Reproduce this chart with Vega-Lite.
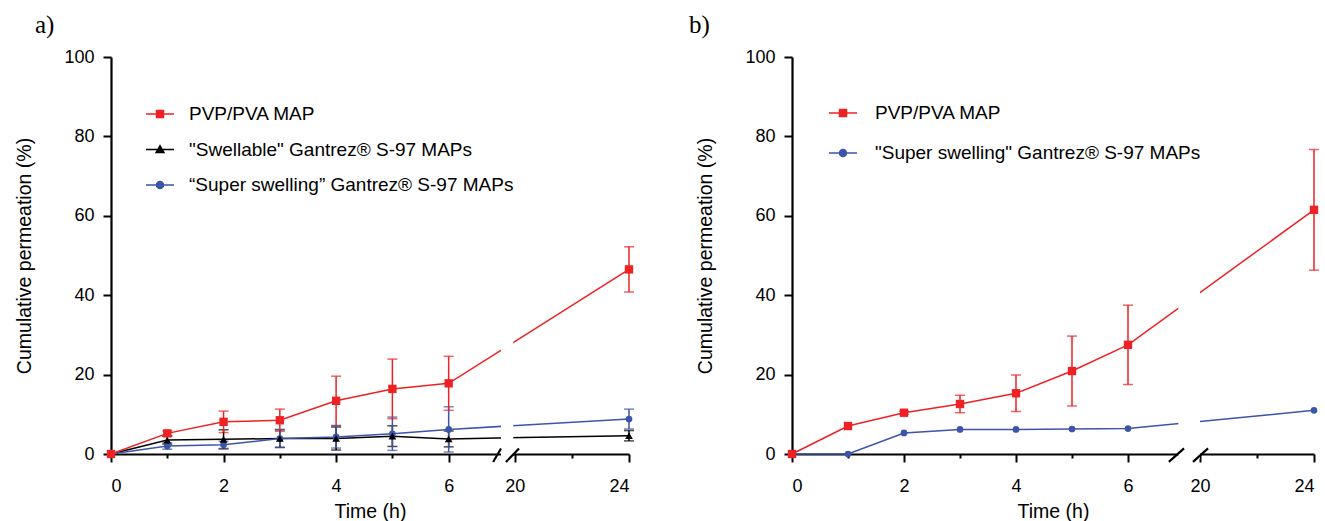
{
  "$schema": "https://vega.github.io/schema/vega-lite/v6.json",
  "background": "white",
  "padding": {"left": 14, "top": 13, "right": 5, "bottom": 5},
  "datasets": {
    "a": [
      {"series": "\"Swellable\" Gantrez® S-97 MAPs", "t": 0, "mean": 0, "sd": 0},
      {"series": "\"Swellable\" Gantrez® S-97 MAPs", "t": 1, "mean": 3.5, "sd": 1.0},
      {"series": "\"Swellable\" Gantrez® S-97 MAPs", "t": 2, "mean": 3.7, "sd": 2.4},
      {"series": "\"Swellable\" Gantrez® S-97 MAPs", "t": 3, "mean": 3.9, "sd": 2.2},
      {"series": "\"Swellable\" Gantrez® S-97 MAPs", "t": 4, "mean": 3.9, "sd": 2.9},
      {"series": "\"Swellable\" Gantrez® S-97 MAPs", "t": 5, "mean": 4.5, "sd": 2.6},
      {"series": "\"Swellable\" Gantrez® S-97 MAPs", "t": 6, "mean": 3.8, "sd": 2.0},
      {"series": "\"Swellable\" Gantrez® S-97 MAPs", "t": 24, "mean": 4.6, "sd": 1.3},
      {"series": "“Super swelling” Gantrez® S-97 MAPs", "t": 0, "mean": 0, "sd": 0},
      {"series": "“Super swelling” Gantrez® S-97 MAPs", "t": 1, "mean": 2.0, "sd": 0.8},
      {"series": "“Super swelling” Gantrez® S-97 MAPs", "t": 2, "mean": 2.3, "sd": 0.9},
      {"series": "“Super swelling” Gantrez® S-97 MAPs", "t": 3, "mean": 3.9, "sd": 2.3},
      {"series": "“Super swelling” Gantrez® S-97 MAPs", "t": 4, "mean": 4.3, "sd": 2.8},
      {"series": "“Super swelling” Gantrez® S-97 MAPs", "t": 5, "mean": 5.1, "sd": 4.2},
      {"series": "“Super swelling” Gantrez® S-97 MAPs", "t": 6, "mean": 6.2, "sd": 5.7},
      {"series": "“Super swelling” Gantrez® S-97 MAPs", "t": 24, "mean": 8.8, "sd": 2.5},
      {"series": "PVP/PVA MAP", "t": 0, "mean": 0, "sd": 0},
      {"series": "PVP/PVA MAP", "t": 1, "mean": 5.2, "sd": 0.6},
      {"series": "PVP/PVA MAP", "t": 2, "mean": 8.1, "sd": 2.7},
      {"series": "PVP/PVA MAP", "t": 3, "mean": 8.5, "sd": 2.8},
      {"series": "PVP/PVA MAP", "t": 4, "mean": 13.4, "sd": 6.2},
      {"series": "PVP/PVA MAP", "t": 5, "mean": 16.4, "sd": 7.5},
      {"series": "PVP/PVA MAP", "t": 6, "mean": 17.8, "sd": 6.8},
      {"series": "PVP/PVA MAP", "t": 24, "mean": 46.5, "sd": 5.7}
    ],
    "b": [
      {"series": "\"Super swelling\" Gantrez® S-97 MAPs", "t": 0, "mean": 0, "sd": 0},
      {"series": "\"Super swelling\" Gantrez® S-97 MAPs", "t": 1, "mean": 0, "sd": 0},
      {"series": "\"Super swelling\" Gantrez® S-97 MAPs", "t": 2, "mean": 5.3, "sd": 0},
      {"series": "\"Super swelling\" Gantrez® S-97 MAPs", "t": 3, "mean": 6.2, "sd": 0},
      {"series": "\"Super swelling\" Gantrez® S-97 MAPs", "t": 4, "mean": 6.2, "sd": 0},
      {"series": "\"Super swelling\" Gantrez® S-97 MAPs", "t": 5, "mean": 6.3, "sd": 0},
      {"series": "\"Super swelling\" Gantrez® S-97 MAPs", "t": 6, "mean": 6.4, "sd": 0},
      {"series": "\"Super swelling\" Gantrez® S-97 MAPs", "t": 24, "mean": 11.0, "sd": 0},
      {"series": "PVP/PVA MAP", "t": 0, "mean": 0, "sd": 0},
      {"series": "PVP/PVA MAP", "t": 1, "mean": 7.05, "sd": 0},
      {"series": "PVP/PVA MAP", "t": 2, "mean": 10.4, "sd": 0.4},
      {"series": "PVP/PVA MAP", "t": 3, "mean": 12.6, "sd": 2.2},
      {"series": "PVP/PVA MAP", "t": 4, "mean": 15.3, "sd": 4.6},
      {"series": "PVP/PVA MAP", "t": 5, "mean": 20.9, "sd": 8.8},
      {"series": "PVP/PVA MAP", "t": 6, "mean": 27.5, "sd": 10.0},
      {"series": "PVP/PVA MAP", "t": 24, "mean": 61.5, "sd": 15.2}
    ]
  },
  "spacing": 54,
  "hconcat": [
    {
      "width": 518,
      "height": 397,
      "title": {"text": "a)", "anchor": "start", "frame": "bounds", "dx": 20, "offset": 10},
      "data": {"name": "a"},
      "layer": [
        {
          "transform": [{"filter": "datum.sd > 0"}],
          "mark": {"type": "errorbar", "ticks": {"size": 10, "thickness": 1.5}, "thickness": 1.5},
          "encoding": {
            "x": {"field": "t", "type": "quantitative", "scale": {"domain": [0, 6.93, 19.95, 24], "range": [0, 390, 402.3, 518], "nice": false, "zero": false},
              "axis": {"values": [0, 1, 2, 3, 4, 5, 6, 20, 22, 24], "title": "Time (h)", "labelExpr": "datum.value % 2 == 1 || datum.value == 22 ? '' : datum.label",
                "tickSize": {"condition": {"test": "datum.value % 2 == 1 || datum.value == 22", "value": 4}, "value": 8}}},
            "y": {"field": "mean", "type": "quantitative", "scale": {"domain": [0, 100], "nice": false},
              "axis": {"values": [0, 10, 20, 30, 40, 50, 60, 70, 80, 90, 100], "title": "Cumulative permeation (%)", "labelExpr": "datum.value % 20 == 0 ? datum.label : ''",
                "tickSize": {"condition": {"test": "datum.value % 20 != 0", "value": 4}, "value": 8}}},
            "yError": {"field": "sd"},
            "color": {"field": "series", "type": "nominal",
              "scale": {"domain": ["PVP/PVA MAP", "\"Swellable\" Gantrez® S-97 MAPs", "“Super swelling” Gantrez® S-97 MAPs"], "range": ["#ED2224", "#000000", "#3B55A8"]},
              "legend": {"orient": "none", "legendX": 34, "legendY": 42, "title": null, "symbolSize": 784, "labelOffset": 14, "rowPadding": 10.5, "padding": 0,
                "labelFontSize": 19, "labelFont": "Liberation Sans", "labelColor": "#000", "symbolStrokeWidth": 1.5, "labelLimit": 500,
                "encode": {"symbols": {"update": {
                  "shape": {"signal": "indexof(datum.value, 'PVP') >= 0 ? 'M-1,0H1M-0.25,-0.25H0.25V0.25H-0.25Z' : (indexof(datum.value, 'Swellable') >= 0 ? 'M-1,0H1M-0.28,0.22L0,-0.26L0.28,0.22Z' : 'M-1,0H1M-0.25,0A0.25,0.25 0 1,0 0.25,0A0.25,0.25 0 1,0 -0.25,0Z')"},
                  "fill": {"signal": "indexof(datum.value, 'PVP') >= 0 ? '#ED2224' : (indexof(datum.value, 'Swellable') >= 0 ? '#000000' : '#3B55A8')"},
                  "stroke": {"signal": "indexof(datum.value, 'PVP') >= 0 ? '#ED2224' : (indexof(datum.value, 'Swellable') >= 0 ? '#000000' : '#3B55A8')"},
                  "fillOpacity": {"value": 1}, "strokeOpacity": {"value": 1}, "strokeWidth": {"value": 1.5}, "opacity": {"value": 1}
                }}}}
            }
          }
        },
        {
          "mark": {"type": "line", "strokeWidth": 1.5},
          "encoding": {
            "x": {"field": "t", "type": "quantitative", "scale": {"domain": [0, 6.93, 19.95, 24], "range": [0, 390, 402.3, 518], "nice": false, "zero": false}},
            "y": {"field": "mean", "type": "quantitative", "scale": {"domain": [0, 100], "nice": false}},
            "color": {"field": "series", "type": "nominal",
              "scale": {"domain": ["PVP/PVA MAP", "\"Swellable\" Gantrez® S-97 MAPs", "“Super swelling” Gantrez® S-97 MAPs"], "range": ["#ED2224", "#000000", "#3B55A8"]}}
          }
        },
        {
          "transform": [{"filter": "indexof(datum.series, 'Super') >= 0"}],
          "mark": {"type": "point", "shape": "circle", "filled": true, "opacity": 1, "size": 45, "color": "#3B55A8"},
          "encoding": {
            "x": {"field": "t", "type": "quantitative", "scale": {"domain": [0, 6.93, 19.95, 24], "range": [0, 390, 402.3, 518], "nice": false, "zero": false}},
            "y": {"field": "mean", "type": "quantitative", "scale": {"domain": [0, 100], "nice": false}}
          }
        },
        {
          "transform": [{"filter": "indexof(datum.series, 'Swellable') >= 0"}],
          "mark": {"type": "point", "shape": "triangle-up", "filled": true, "opacity": 1, "size": 60, "color": "#000000"},
          "encoding": {
            "x": {"field": "t", "type": "quantitative", "scale": {"domain": [0, 6.93, 19.95, 24], "range": [0, 390, 402.3, 518], "nice": false, "zero": false}},
            "y": {"field": "mean", "type": "quantitative", "scale": {"domain": [0, 100], "nice": false}}
          }
        },
        {
          "transform": [{"filter": "indexof(datum.series, 'PVP') >= 0"}],
          "mark": {"type": "point", "shape": "square", "filled": true, "opacity": 1, "size": 70, "color": "#ED2224"},
          "encoding": {
            "x": {"field": "t", "type": "quantitative", "scale": {"domain": [0, 6.93, 19.95, 24], "range": [0, 390, 402.3, 518], "nice": false, "zero": false}},
            "y": {"field": "mean", "type": "quantitative", "scale": {"domain": [0, 100], "nice": false}}
          }
        },
        {
          "data": {"values": [{}]},
          "mark": {"type": "rect", "color": "white"},
          "encoding": {
            "x": {"datum": 6.93, "type": "quantitative", "scale": {"domain": [0, 6.93, 19.95, 24], "range": [0, 390, 402.3, 518], "nice": false, "zero": false}},
            "x2": {"datum": 19.95},
            "y": {"datum": -1.2, "type": "quantitative", "scale": {"domain": [0, 100], "nice": false}},
            "y2": {"datum": 100}
          }
        },
        {
          "data": {"values": [{}]},
          "mark": {"type": "rule", "color": "black", "strokeWidth": 2.2},
          "encoding": {
            "x": {"datum": 6.79, "type": "quantitative", "scale": {"domain": [0, 6.93, 19.95, 24], "range": [0, 390, 402.3, 518], "nice": false, "zero": false}},
            "x2": {"datum": 6.95},
            "y": {"datum": -2.0, "type": "quantitative", "scale": {"domain": [0, 100], "nice": false}},
            "y2": {"datum": 1.4}
          }
        },
        {
          "data": {"values": [{}]},
          "mark": {"type": "rule", "color": "black", "strokeWidth": 2.2},
          "encoding": {
            "x": {"datum": 12.2, "type": "quantitative", "scale": {"domain": [0, 6.93, 19.95, 24], "range": [0, 390, 402.3, 518], "nice": false, "zero": false}},
            "x2": {"datum": 20.15},
            "y": {"datum": -2.0, "type": "quantitative", "scale": {"domain": [0, 100], "nice": false}},
            "y2": {"datum": 1.4}
          }
        }
      ]
    },
    {
      "width": 522,
      "height": 397,
      "title": {"text": "b)", "anchor": "start", "frame": "bounds", "dx": -7, "offset": 10},
      "data": {"name": "b"},
      "layer": [
        {
          "transform": [{"filter": "datum.sd > 0"}],
          "mark": {"type": "errorbar", "ticks": {"size": 10, "thickness": 1.5}, "thickness": 1.5},
          "encoding": {
            "x": {"field": "t", "type": "quantitative", "scale": {"domain": [0, 6.9, 20.03, 24], "range": [0, 386.4, 408, 522], "nice": false, "zero": false},
              "axis": {"values": [0, 1, 2, 3, 4, 5, 6, 20, 22, 24], "title": "Time (h)", "labelExpr": "datum.value % 2 == 1 || datum.value == 22 ? '' : datum.label",
                "tickSize": {"condition": {"test": "datum.value % 2 == 1 || datum.value == 22", "value": 4}, "value": 8}}},
            "y": {"field": "mean", "type": "quantitative", "scale": {"domain": [0, 100], "nice": false},
              "axis": {"values": [0, 10, 20, 30, 40, 50, 60, 70, 80, 90, 100], "title": "Cumulative permeation (%)", "labelExpr": "datum.value % 20 == 0 ? datum.label : ''",
                "tickSize": {"condition": {"test": "datum.value % 20 != 0", "value": 4}, "value": 8}}},
            "yError": {"field": "sd"},
            "color": {"field": "series", "type": "nominal",
              "scale": {"domain": ["PVP/PVA MAP", "\"Super swelling\" Gantrez® S-97 MAPs"], "range": ["#ED2224", "#3B55A8"]},
              "legend": {"orient": "none", "legendX": 36, "legendY": 41, "title": null, "symbolSize": 784, "labelOffset": 17, "rowPadding": 15, "padding": 0,
                "labelFontSize": 19, "labelFont": "Liberation Sans", "labelColor": "#000", "symbolStrokeWidth": 1.5, "labelLimit": 500,
                "encode": {"symbols": {"update": {
                  "shape": {"signal": "indexof(datum.value, 'PVP') >= 0 ? 'M-1,0H1M-0.25,-0.25H0.25V0.25H-0.25Z' : 'M-1,0H1M-0.25,0A0.25,0.25 0 1,0 0.25,0A0.25,0.25 0 1,0 -0.25,0Z'"},
                  "fill": {"signal": "indexof(datum.value, 'PVP') >= 0 ? '#ED2224' : '#3B55A8'"},
                  "stroke": {"signal": "indexof(datum.value, 'PVP') >= 0 ? '#ED2224' : '#3B55A8'"},
                  "fillOpacity": {"value": 1}, "strokeOpacity": {"value": 1}, "strokeWidth": {"value": 1.5}, "opacity": {"value": 1}
                }}}}
            }
          }
        },
        {
          "mark": {"type": "line", "strokeWidth": 1.5},
          "encoding": {
            "x": {"field": "t", "type": "quantitative", "scale": {"domain": [0, 6.9, 20.03, 24], "range": [0, 386.4, 408, 522], "nice": false, "zero": false}},
            "y": {"field": "mean", "type": "quantitative", "scale": {"domain": [0, 100], "nice": false}},
            "color": {"field": "series", "type": "nominal",
              "scale": {"domain": ["PVP/PVA MAP", "\"Super swelling\" Gantrez® S-97 MAPs"], "range": ["#ED2224", "#3B55A8"]}}
          }
        },
        {
          "transform": [{"filter": "indexof(datum.series, 'Super') >= 0"}],
          "mark": {"type": "point", "shape": "circle", "filled": true, "opacity": 1, "size": 45, "color": "#3B55A8"},
          "encoding": {
            "x": {"field": "t", "type": "quantitative", "scale": {"domain": [0, 6.9, 20.03, 24], "range": [0, 386.4, 408, 522], "nice": false, "zero": false}},
            "y": {"field": "mean", "type": "quantitative", "scale": {"domain": [0, 100], "nice": false}}
          }
        },
        {
          "transform": [{"filter": "indexof(datum.series, 'PVP') >= 0"}],
          "mark": {"type": "point", "shape": "square", "filled": true, "opacity": 1, "size": 70, "color": "#ED2224"},
          "encoding": {
            "x": {"field": "t", "type": "quantitative", "scale": {"domain": [0, 6.9, 20.03, 24], "range": [0, 386.4, 408, 522], "nice": false, "zero": false}},
            "y": {"field": "mean", "type": "quantitative", "scale": {"domain": [0, 100], "nice": false}}
          }
        },
        {
          "data": {"values": [{}]},
          "mark": {"type": "rect", "color": "white"},
          "encoding": {
            "x": {"datum": 6.9, "type": "quantitative", "scale": {"domain": [0, 6.9, 20.03, 24], "range": [0, 386.4, 408, 522], "nice": false, "zero": false}},
            "x2": {"datum": 20.03},
            "y": {"datum": -1.2, "type": "quantitative", "scale": {"domain": [0, 100], "nice": false}},
            "y2": {"datum": 100}
          }
        },
        {
          "data": {"values": [{}]},
          "mark": {"type": "rule", "color": "black", "strokeWidth": 2.2},
          "encoding": {
            "x": {"datum": 6.73, "type": "quantitative", "scale": {"domain": [0, 6.9, 20.03, 24], "range": [0, 386.4, 408, 522], "nice": false, "zero": false}},
            "x2": {"datum": 10.3},
            "y": {"datum": -2.0, "type": "quantitative", "scale": {"domain": [0, 100], "nice": false}},
            "y2": {"datum": 1.4}
          }
        },
        {
          "data": {"values": [{}]},
          "mark": {"type": "rule", "color": "black", "strokeWidth": 2.2},
          "encoding": {
            "x": {"datum": 15.77, "type": "quantitative", "scale": {"domain": [0, 6.9, 20.03, 24], "range": [0, 386.4, 408, 522], "nice": false, "zero": false}},
            "x2": {"datum": 20.31},
            "y": {"datum": -2.0, "type": "quantitative", "scale": {"domain": [0, 100], "nice": false}},
            "y2": {"datum": 1.4}
          }
        }
      ]
    }
  ],
  "resolve": {
    "scale": {"x": "independent", "y": "independent", "color": "independent"},
    "legend": {"color": "independent"},
    "axis": {"x": "independent", "y": "independent"}
  },
  "config": {
    "view": {"stroke": null},
    "font": "Liberation Sans",
    "title": {"font": "Liberation Serif", "fontSize": 25, "fontWeight": "normal", "color": "#000"},
    "axis": {
      "grid": false,
      "domainColor": "#000",
      "domainWidth": 2.2,
      "tickColor": "#000",
      "tickWidth": 2,
      "labelFont": "Liberation Sans",
      "labelFontSize": 18,
      "labelColor": "#000",
      "labelPadding": 9,
      "titleFont": "Liberation Sans",
      "titleFontSize": 19.5,
      "titleFontWeight": "normal",
      "titleColor": "#000"
    },
    "axisX": {"titlePadding": 7, "labelPadding": 15},
    "axisY": {"titlePadding": 29}
  }
}
